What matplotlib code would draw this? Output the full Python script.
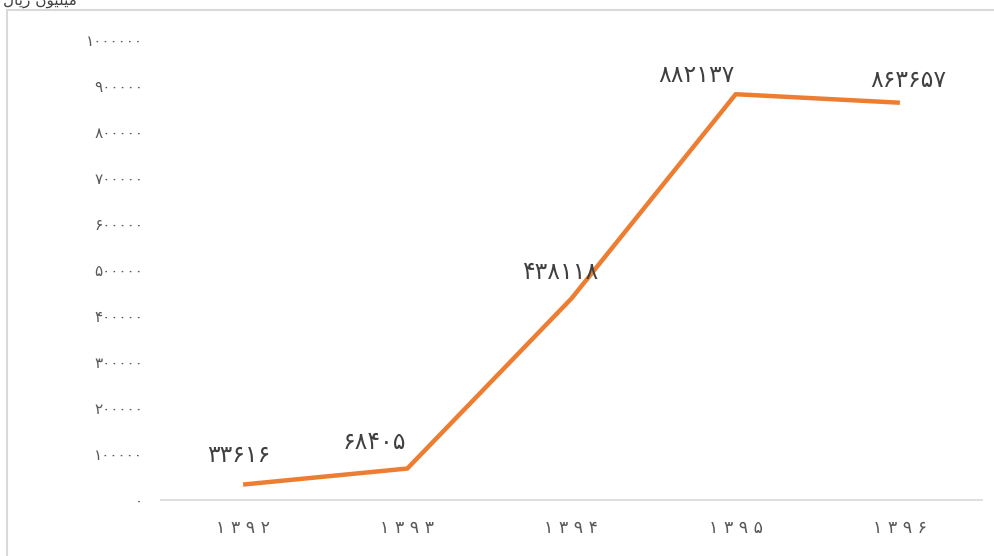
import numpy as np
import matplotlib
matplotlib.use("Agg")
import matplotlib.pyplot as plt
from matplotlib.patches import Rectangle

# data (years in Persian calendar, values in million rials)
years = [1392, 1393, 1394, 1395, 1396]
values = [33616, 68405, 438118, 882137, 863657]
yticks = np.arange(0, 1000001, 100000)

# label offsets (points) for each data label
lbl_off = [(-3, 21), (-24, 19), (-8, 19), (-28, 14), (6, 16)]

fa = str.maketrans("0123456789", "۰۱۲۳۴۵۶۷۸۹")
def fa_num(n, spaced=False):
    s = str(n).translate(fa)
    return " ".join(s) if spaced else s

plt.rcParams['font.family'] = ['DejaVu Sans']
txt_col = "#595959"

fig = plt.figure(figsize=(9.95, 5.56), dpi=100)
ax = fig.add_axes([161/995, 1-500/556, 821/995, 460/556])

x = np.arange(len(years))
ax.plot(x, values, color="#ED7D31", lw=3.2, solid_capstyle="butt")

for xi, v, off in zip(x, values, lbl_off):
    ax.annotate(fa_num(v), (xi, v), xytext=off, textcoords="offset points",
                ha="center", va="center", fontsize=17, color="#404040")

ax.set_xlim(-0.5, len(years)-0.5)
ax.set_ylim(0, 1000000)
ax.set_xticks(x)
ax.set_xticklabels([fa_num(y, spaced=True) for y in years], fontsize=12.5, color=txt_col)
ax.set_yticks(yticks)
ax.set_yticklabels([fa_num(t) for t in yticks], fontsize=11, color=txt_col)
ax.tick_params(length=0)
ax.tick_params(axis="y", pad=13)
ax.tick_params(axis="x", pad=14)

for s in ["top", "right", "left"]:
    ax.spines[s].set_visible(False)
ax.spines["bottom"].set_color("#D9D9D9")
ax.spines["bottom"].set_linewidth(1.2)

# outer chart frame
fig.patches.append(Rectangle((7/995, -0.1), 1.2, 1-10/556+0.1, transform=fig.transFigure,
                             fill=False, edgecolor="#D9D9D9", lw=1.5))

# unit label, cut off at top like the reference
fig.text(40/995, 1.0, "ﻝﺎﯾﺭ ﻥﻮﯿﻠﯿﻣ", ha="center", va="center", fontsize=11, color="#404040")

fig.savefig("out.png", dpi=100)
